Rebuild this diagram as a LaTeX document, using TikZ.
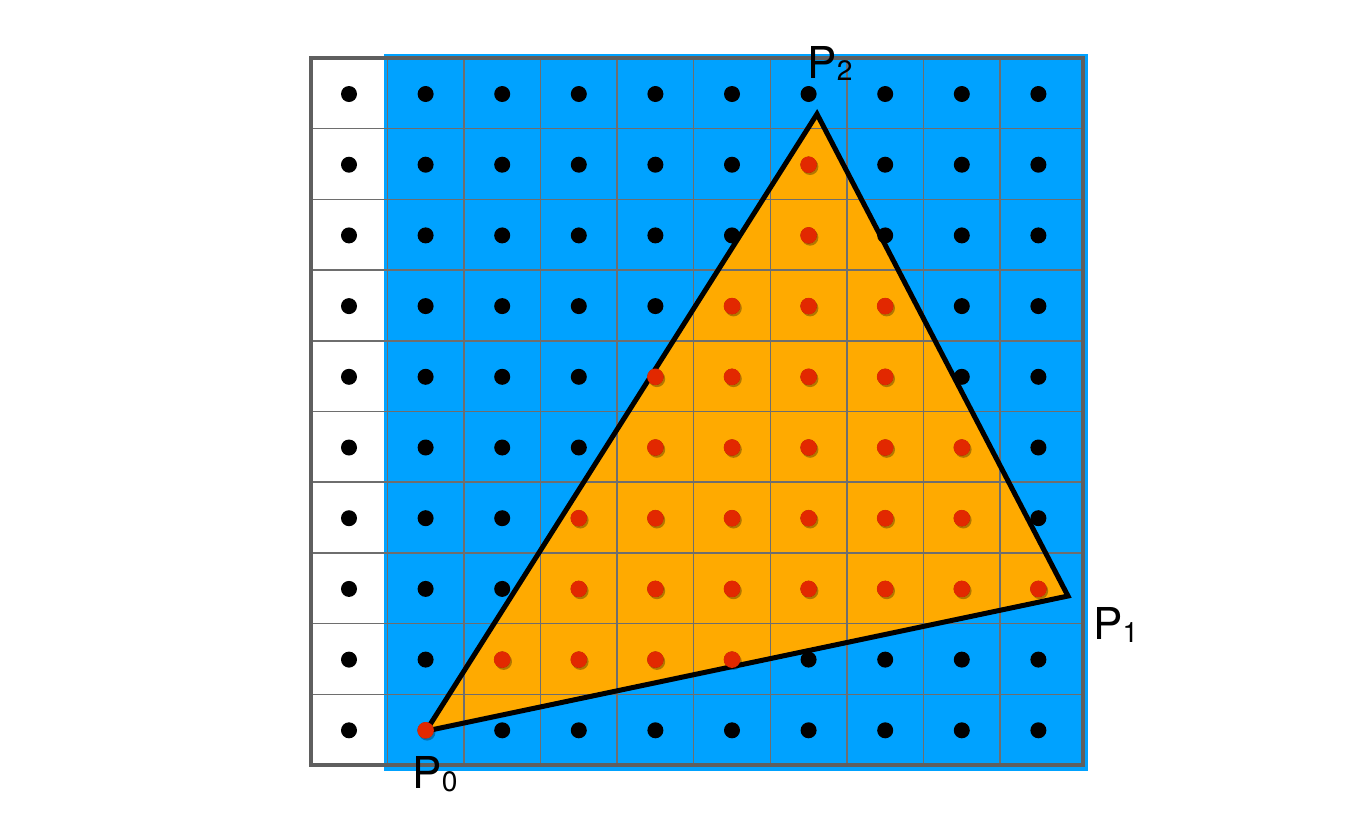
\documentclass[tikz,border=0pt]{standalone}
\usepackage{fontspec}
\setmainfont{TeX Gyre Heros}
\usetikzlibrary{positioning}
\definecolor{CellBlue}{RGB}{0,162,255}
\definecolor{TriOrange}{RGB}{255,170,0}
\definecolor{SampleRed}{RGB}{226,40,0}
\definecolor{GridGray}{RGB}{110,110,110}
\definecolor{FrameGray}{RGB}{95,95,95}
\newcommand{\psub}[1]{\raisebox{-1.5pt}{\fontsize{16}{16}\selectfont #1}}

\begin{document}
\begin{tikzpicture}[x=0.02cm, y=-0.02cm,
    gridline/.style={draw=GridGray, line width=0.03cm},
    frame/.style={draw=FrameGray, line width=0.08cm},
    tri/.style={draw=black, line width=0.1cm, line join=miter},
    sample/.style={fill=black},
    hit/.style={fill=SampleRed},
    hitshadow/.style={fill=black, opacity=0.3},
    lbl/.style={font=\fontsize{25}{28}\selectfont, inner sep=0pt}
]
    \useasboundingbox (0,0) rectangle (1367,816);
    \fill[CellBlue] (384,54) rectangle (1088,771);

    \coordinate (P0) at (426,731);
    \coordinate (P1) at (1068,596);
    \coordinate (P2) at (817,114);
    \fill[TriOrange] (P0) -- (P1) -- (P2) -- cycle;

    % pixel grid
    \foreach \k in {0,...,8}
        \draw[gridline] ({387.3+76.6*\k},58) -- ({387.3+76.6*\k},765);
    \foreach \k in {1,...,9}
        \draw[gridline] (311,{58+70.7*\k}) -- (1083,{58+70.7*\k});
    \draw[frame] (311,58) rectangle (1083,765);

    \draw[tri] (P0) -- (P1) -- (P2) -- cycle;

    % sample points
    \foreach \c in {0,...,9}
        \foreach \r in {0,...,9}
            \fill[sample] ({349+76.6*\c},{94+70.7*\r}) circle (8);
    \foreach \c/\r in {6/1, 6/2, 5/3, 6/3, 7/3, 4/4, 5/4, 6/4, 7/4,
                       4/5, 5/5, 6/5, 7/5, 8/5, 3/6, 4/6, 5/6, 6/6, 7/6, 8/6,
                       3/7, 4/7, 5/7, 6/7, 7/7, 8/7, 9/7, 2/8, 3/8, 4/8, 5/8, 1/9}
    {
        \fill[hitshadow] ({349+76.6*\c+1.5},{94+70.7*\r+2}) circle (8.3);
        \fill[hit] ({349+76.6*\c},{94+70.7*\r}) circle (8.3);
    }

    \node[lbl, below=0.5cm of P0, xshift=0.18cm] (l0) {P\psub{0}};
    \node[lbl, below right=0.22cm and 0.5cm of P1] (l1) {P\psub{1}};
    \node[lbl, above=0.66cm of P2, xshift=0.26cm] (l2) {P\psub{2}};
\end{tikzpicture}
\end{document}
